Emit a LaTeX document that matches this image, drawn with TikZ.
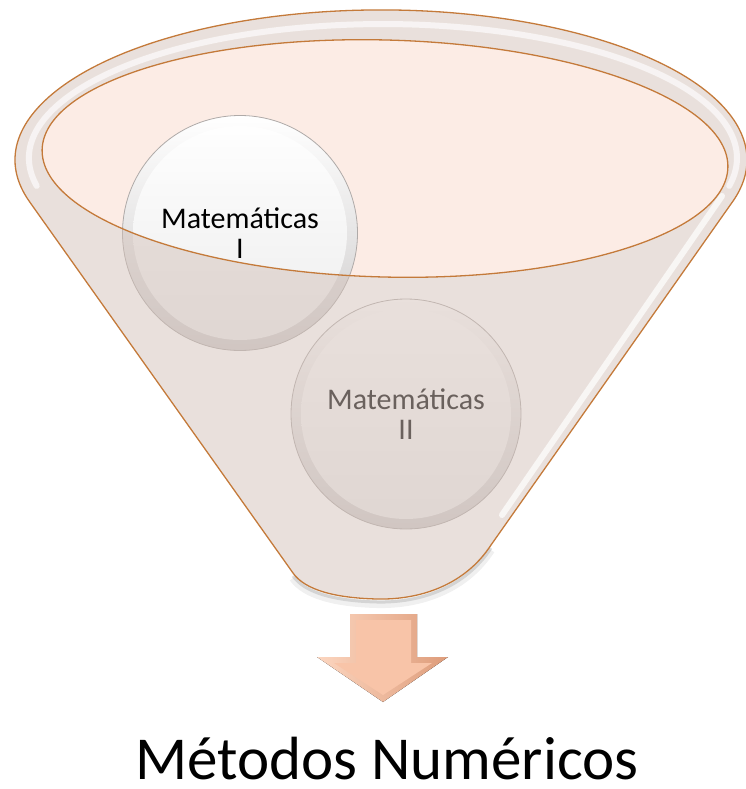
\documentclass[tikz,border=0pt]{standalone}
\usepackage{fontspec}
\setmainfont{Carlito}
\definecolor{edgeC}{RGB}{196,122,58}
\definecolor{innerC}{RGB}{252,236,229}
\definecolor{overC}{RGB}{212,194,186}
\definecolor{bubbleEdge}{RGB}{175,170,168}
\definecolor{bubbleBottom}{RGB}{205,203,203}
\definecolor{bubbleInBottom}{RGB}{236,236,236}
\definecolor{arrowLight}{RGB}{252,214,192}
\definecolor{arrowDark}{RGB}{222,156,122}
\definecolor{arrowFace}{RGB}{248,196,168}
\tikzset{
  bubble/.style={circle, inner sep=0pt, draw=bubbleEdge, line width=0.8pt,
    top color=white, bottom color=bubbleBottom, align=center,
    font=\fontsize{30}{30.5}\selectfont,
    path picture={\shade[top color=white, bottom color=bubbleInBottom]
      (path picture bounding box.center) circle (#1);}},
  funnelline/.style={draw=edgeC, line width=1.3pt},
  bigtext/.style={anchor=base, inner sep=0pt, font=\fontsize{61}{70}\selectfont}
}
\begin{document}
\begin{tikzpicture}[x=1pt,y=-1pt]
\useasboundingbox (0,0) rectangle (745,789);
\def\funnelpath{(29.6,201.8) arc[start angle=163.8, end angle=375.8, x radius=366, y radius=150] -- (491,545) .. controls (465,585) and (420,600) .. (377,599) .. controls (335,598) and (305,590) .. (293,573) -- cycle}
\def\innerellipse{{[rotate around={-1.5:(385,158.5)}] (385,158.5) ellipse [x radius=343, y radius=118.5]}}
% soft shadow under the funnel bottom
\draw[gray, opacity=.12, line width=8] (491,550) .. controls (465,590) and (420,605) .. (377,604) .. controls (335,603) and (305,595) .. (293,578);
\draw[gray, opacity=.25, line width=3] (491,548) .. controls (465,588) and (420,603) .. (377,602) .. controls (335,601) and (305,593) .. (293,576);
% inner opening
\fill[innerC] \innerellipse;
% circles
\node[bubble=107, minimum size=235pt] (m1) at (240,233) {Matemáticas\\I};
\node[bubble=105, minimum size=230pt] (m2) at (406,414) {Matemáticas\\II};
% translucent front of the funnel
\fill[overC, fill opacity=.5, even odd rule] \funnelpath \innerellipse;
% highlights
\draw[white, opacity=.65, line width=6, line cap=round] (36.7,185.9) arc[start angle=168, end angle=372, x radius=354, y radius=134];
\draw[white, opacity=.7, line width=6, line cap=round] (722,196) -- (502,515);
% outlines
\draw[funnelline] \funnelpath;
\draw[funnelline] \innerellipse;
% arrow
\fill[left color=arrowLight, right color=arrowDark] (350,614) -- (417,614) -- (417,657) -- (448,657) -- (383,702) -- (317,657) -- (350,657) -- cycle;
\fill[arrowFace] (356,620) -- (411,620) -- (411,663) -- (432,663) -- (383,695) -- (334,663) -- (356,663) -- cycle;
% result
\node[bigtext] (mn) at (387,779) {Métodos Numéricos};
\end{tikzpicture}
\end{document}
